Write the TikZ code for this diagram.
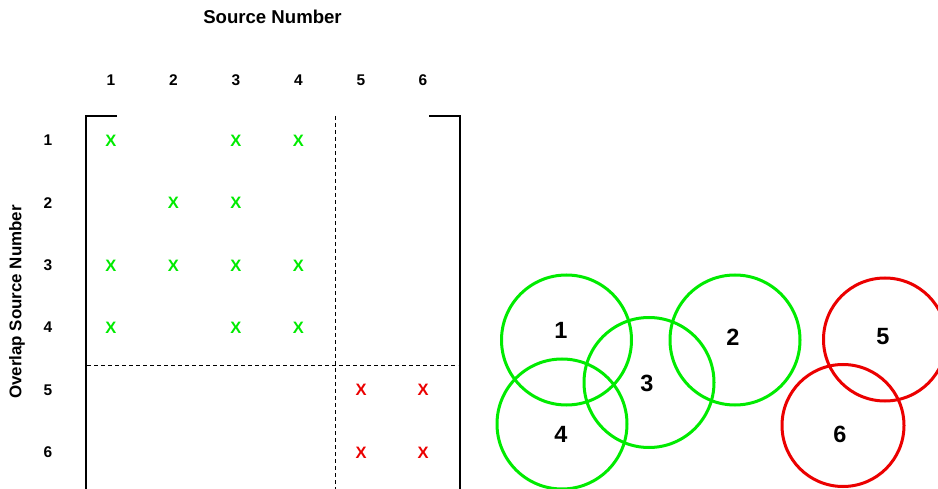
\documentclass[tikz,border=0pt]{standalone}
\usepackage{fontspec}
\setmainfont{Liberation Sans}
\definecolor{mgreen}{RGB}{0,235,0}
\definecolor{mred}{RGB}{235,0,0}
\begin{document}
\begin{tikzpicture}[x=1pt,y=-1pt,
  lbl/.style={inner sep=0pt,font=\fontsize{15.5}{18}\selectfont\bfseries},
  gx/.style={inner sep=0pt,text=mgreen,font=\fontsize{16.5}{19}\selectfont\bfseries},
  rx/.style={inner sep=0pt,text=mred,font=\fontsize{16.5}{19}\selectfont\bfseries},
  bracket/.style={line width=2.5pt},
  divider/.style={line width=0.8pt,dash pattern=on 4pt off 3pt},
  gcirc/.style={circle,draw=mgreen,line width=3pt,inner sep=0pt},
  rcirc/.style={circle,draw=mred,line width=3pt,inner sep=0pt},
  clbl/.style={inner sep=0pt,font=\fontsize{23.5}{26}\selectfont\bfseries}]
\useasboundingbox (0,0) rectangle (938,489);
% titles
\node[inner sep=0pt,font=\fontsize{18.6}{21}\selectfont\bfseries] (title) at (272.5,17) {Source Number};
\node[inner sep=0pt,rotate=90,font=\fontsize{16.9}{20}\selectfont\bfseries] (ytitle) at (17,302) {Overlap Source Number};
% column labels
\foreach \i/\x in {1/111,2/173.5,3/236,4/298.5,5/361,6/423}
  \node[lbl] (col\i) at (\x,80.5) {\i};
% row labels
\foreach \i/\y in {1/140.5,2/203,3/265.5,4/327.5,5/390,6/452.5}
  \node[lbl] (row\i) at (48,\y) {\i};
% brackets
\coordinate (ltop) at (117,116);
\coordinate (lcorner) at (86,116);
\coordinate (lbot) at (86,489);
\coordinate (rtop) at (429,116);
\coordinate (rcorner) at (460,116);
\coordinate (rbot) at (460,489);
\draw[bracket] (ltop) -- (lcorner) -- (lbot);
\draw[bracket] (rtop) -- (rcorner) -- (rbot);
% dividers
\coordinate (vt) at (335,116);
\coordinate (vb) at (335,489);
\coordinate (hl) at (87,365);
\coordinate (hr) at (458,365);
\draw[divider] (vt) -- (vb);
\draw[divider] (hl) -- (hr);
% green marks
\foreach \r/\c in {1/1,1/3,1/4,2/2,2/3,3/1,3/2,3/3,3/4,4/1,4/3,4/4}
  \node[gx] (m\r\c) at (col\c |- row\r) {X};
% red marks
\foreach \r/\c in {5/5,5/6,6/5,6/6}
  \node[rx] (m\r\c) at (col\c |- row\r) {X};
% circles
\node[gcirc,minimum size=130pt] (c1) at (566.5,340) {};
\node[gcirc,minimum size=130pt] (c4) at (562,424) {};
\node[gcirc,minimum size=130pt] (c3) at (649,382.5) {};
\node[gcirc,minimum size=130pt] (c2) at (735,340) {};
\node[rcirc,minimum size=123pt] (c5) at (885,339.5) {};
\node[rcirc,minimum size=122pt] (c6) at (843,425.5) {};
\node[clbl] (t1) at (561,330) {1};
\node[clbl] (t2) at (733,337) {2};
\node[clbl] (t3) at (647,383) {3};
\node[clbl] (t4) at (561,434) {4};
\node[clbl] (t5) at (883,337) {5};
\node[clbl] (t6) at (840,434) {6};
\end{tikzpicture}
\end{document}
